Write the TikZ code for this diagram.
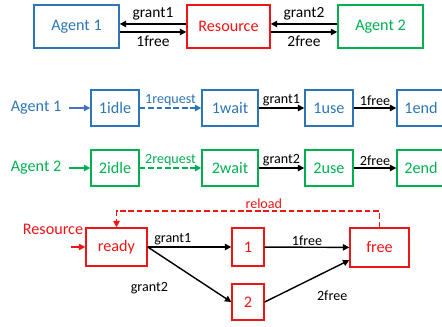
\documentclass[tikz,border=0pt]{standalone}
\usepackage{fontspec}
\setmainfont{Carlito}
\usetikzlibrary{arrows.meta}
\definecolor{agentblue}{RGB}{46,117,182}
\definecolor{agentgreen}{RGB}{0,176,80}
\definecolor{resred}{RGB}{240,20,20}
\definecolor{inblue}{RGB}{68,114,196}

\begin{document}
\begin{tikzpicture}[x=0.025cm, y=-0.025cm,
  box/.style={draw, line width=1pt, inner sep=0pt, font=\fontsize{11.5}{14}\selectfont},
  arr/.style={-{Triangle[length=4.5pt,width=4.5pt]}, line width=1pt},
  dashline/.style={line width=1.3pt, dash pattern=on 4pt off 2pt},
  lbl/.style={font=\fontsize{10}{12}\selectfont, inner sep=1pt},
  toplbl/.style={font=\fontsize{11}{13}\selectfont, inner sep=2.5pt},
  rowlbl/.style={font=\fontsize{11.5}{14}\selectfont}]
  \useasboundingbox (0,0) rectangle (442,327);
  \clip (0,0) rectangle (442,327);

  % Agents and resource
  \node[box, draw=agentblue, text=agentblue, minimum width=2.125cm, minimum height=1.075cm] (ag1) at (76.5,26.5) {Agent 1};
  \node[box, draw=resred, text=resred, minimum width=2.075cm, minimum height=1.075cm] (res) at (228.5,26.5) {Resource};
  \node[box, draw=agentgreen, text=agentgreen, minimum width=2.125cm, minimum height=1.075cm] (ag2) at (380.5,26.5) {Agent 2};
  \draw[arr] ([yshift=1.8pt]res.west) -- node[above, toplbl] {grant1} ([yshift=1.8pt]ag1.east);
  \draw[arr] ([yshift=-3.9pt]ag1.east) -- node[below, toplbl] {1free} ([yshift=-3.9pt]res.west);
  \draw[arr] ([yshift=1.8pt]ag2.west) -- node[above, toplbl] {grant2} ([yshift=1.8pt]res.east);
  \draw[arr] ([yshift=-3.9pt]res.east) -- node[below, toplbl] {2free} ([yshift=-3.9pt]ag2.west);

  % Agent 1
  \node[rowlbl, text=agentblue] (lbl1) at (36,108) {Agent 1};
  \node[box, draw=agentblue, text=agentblue, minimum width=1.2cm, minimum height=0.9cm] (idle1) at (115,108) {1idle};
  \node[box, draw=agentblue, text=agentblue, minimum width=1.4cm, minimum height=0.9cm] (wait1) at (230,108) {1wait};
  \node[box, draw=agentblue, text=agentblue, minimum width=1.2cm, minimum height=0.9cm] (use1) at (329,108) {1use};
  \node[box, draw=agentblue, text=agentblue, minimum width=1.2cm, minimum height=0.9cm] (end1) at (421,108) {1end};
  \draw[arr, inblue, shorten <=2pt] (lbl1) -- (idle1);
  \draw[arr, agentblue, dashline] (idle1) -- node[above, lbl] {1request} (wait1);
  \draw[arr] (wait1) -- node[above, lbl] {grant1} (use1);
  \draw[arr] (use1) -- node[above, lbl] {1free} (end1);

  % Agent 2
  \node[rowlbl, text=agentgreen] (lbl2) at (36,168) {Agent 2};
  \node[box, draw=agentgreen, text=agentgreen, minimum width=1.2cm, minimum height=0.9cm] (idle2) at (115,168) {2idle};
  \node[box, draw=agentgreen, text=agentgreen, minimum width=1.4cm, minimum height=0.9cm] (wait2) at (230,168) {2wait};
  \node[box, draw=agentgreen, text=agentgreen, minimum width=1.2cm, minimum height=0.9cm] (use2) at (329,168) {2use};
  \node[box, draw=agentgreen, text=agentgreen, minimum width=1.2cm, minimum height=0.9cm] (end2) at (421,168) {2end};
  \draw[arr, agentgreen, shorten <=2pt] (lbl2) -- (idle2);
  \draw[arr, agentgreen, dashline] (idle2) -- node[above, lbl] {2request} (wait2);
  \draw[arr] (wait2) -- node[above, lbl] {grant2} (use2);
  \draw[arr] (use2) -- node[above, lbl] {2free} (end2);

  % Resource
  \node[rowlbl, text=resred] (lblr) at (53,229) {Resource};
  \coordinate (rin) at (71,247);
  \node[box, draw=resred, text=resred, minimum width=1.525cm, minimum height=0.95cm] (ready) at (116.5,247) {ready};
  \node[box, draw=resred, text=resred, minimum width=0.8cm, minimum height=0.95cm] (one) at (248,247) {1};
  \node[box, draw=resred, text=resred, minimum width=0.8cm, minimum height=0.9cm] (two) at (248,302) {2};
  \node[box, draw=resred, text=resred, minimum width=1.475cm, minimum height=0.975cm] (free) at (379.5,247.5) {free};
  \draw[arr, resred] (rin) -- (ready);
  \draw[arr, resred, dashline] (free.north) -- ++(0,-16) -| node[pos=0.22, above, lbl, text=resred] {reload} (ready.north);
  \draw[arr] (ready.east) -- node[pos=0.3, above, lbl] {grant1} (one);
  \draw[arr] (ready.east) -- node[pos=0.02, below=0.8cm, lbl] {grant2} (two.west);
  \draw[arr] (one) -- node[above, lbl] {1free} (free);
  \draw[arr] (two.east) -- node[below right=2mm, lbl] {2free} ([yshift=-9pt]free.west);
\end{tikzpicture}
\end{document}
